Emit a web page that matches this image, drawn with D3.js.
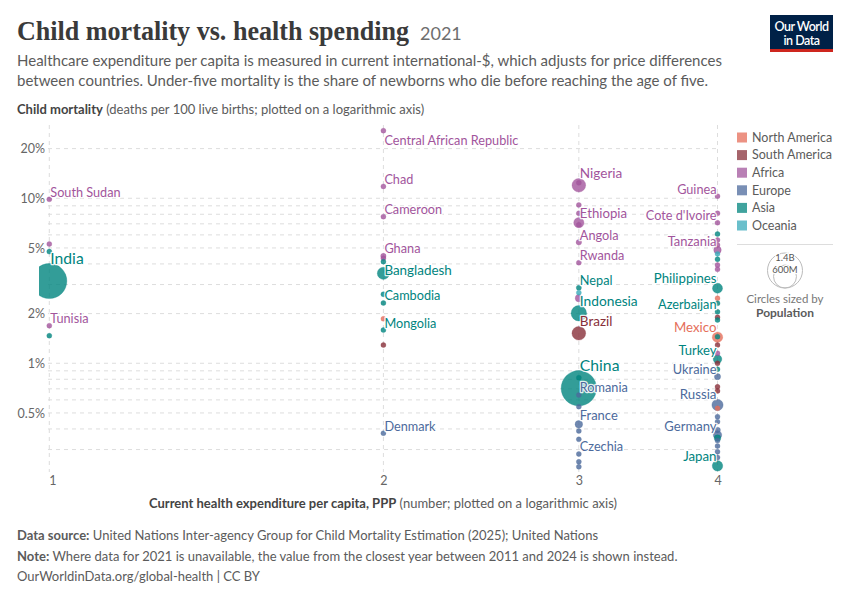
<!DOCTYPE html>
<html>
<head>
<meta charset="utf-8">
<script src="https://cdn.jsdelivr.net/npm/d3@7"></script>
<style>
  html, body { margin: 0; padding: 0; background: #fff; }
  svg { display: block; font-family: Lato, "Noto Sans", sans-serif; }
</style>
</head>
<body>
<svg id="chart" width="850" height="600"></svg>
<script>
// ---------------- DATA ----------------
// (one entry per country; "" = unlabeled point)
const countries = [
  // spending = 1 (6)
  "South Sudan", "", "", "India", "Tunisia", "",
  // spending = 2 (13)
  "Central African Republic", "Chad", "Cameroon", "Ghana", "", "", "Bangladesh", "", "Cambodia", "", "Mongolia", "", "Denmark",
  // spending = 3 (23)
  "Nigeria", "", "", "", "Ethiopia", "", "Angola", "Rwanda", "Nepal", "",
  "", "Indonesia", "Brazil", "China", "", "Romania", "", "France", "", "",
  "Czechia", "", "",
  // spending = 4 (39)
  "Guinea", "", "Cote d'Ivoire", "", "", "", "Tanzania", "", "", "",
  "", "Philippines", "", "", "Azerbaijan", "", "", "Mexico", "", "",
  "", "Turkey", "", "", "Ukraine", "", "", "Russia", "", "",
  "", "", "Germany", "", "", "", "", "", "Japan"
];
const regions = [
  "Africa", "Africa", "Asia", "Asia", "Africa", "Asia",
  "Africa", "Africa", "Africa", "Africa", "Africa", "Asia", "Asia", "Asia", "Asia", "North America", "Asia", "South America", "Europe",
  "Africa", "Africa", "Africa", "Africa", "Africa", "Africa", "Africa", "Africa", "Asia", "Oceania",
  "Africa", "Asia", "South America", "Asia", "Asia", "Europe", "Europe", "Europe", "Europe", "Europe",
  "Europe", "Europe", "Europe",
  "Africa", "Africa", "Africa", "Asia", "Africa", "Africa", "Africa", "Oceania", "Asia", "Africa",
  "Africa", "Asia", "North America", "Asia", "Asia", "South America", "Asia", "North America", "Asia", "South America",
  "Africa", "Asia", "South America", "Asia", "Europe", "South America", "South America", "Europe", "North America", "Europe",
  "Europe", "Europe", "Europe", "Asia", "Europe", "Europe", "Europe", "Europe", "Asia"
];
// Current health expenditure per capita, PPP (values as plotted: 1..4)
const spending = [
  1, 1, 1, 1, 1, 1,
  2, 2, 2, 2, 2, 2, 2, 2, 2, 2, 2, 2, 2,
  3, 3, 3, 3, 3, 3, 3, 3, 3, 3,
  3, 3, 3, 3, 3, 3, 3, 3, 3, 3,
  3, 3, 3,
  4, 4, 4, 4, 4, 4, 4, 4, 4, 4,
  4, 4, 4, 4, 4, 4, 4, 4, 4, 4,
  4, 4, 4, 4, 4, 4, 4, 4, 4, 4,
  4, 4, 4, 4, 4, 4, 4, 4, 4
];
// Under-five mortality (deaths per 100 live births)
const mortality = [
  9.86, 5.28, 4.75, 3.15, 1.69, 1.47,
  25.7, 11.8, 7.74, 4.47, 4.33, 4.13, 3.51, 2.62, 2.32, 1.86, 1.59, 1.29, 0.377,
  12.0, 12.4, 9.11, 8.11, 7.11, 6.9, 5.41, 4.07, 2.87, 2.68,
  2.48, 2.01, 1.52, 0.706, 0.818, 0.643, 0.546, 0.427, 0.389, 0.346,
  0.282, 0.253, 0.236,
  10.3, 8.11, 7.11, 6.08, 5.59, 5.21, 4.86, 4.6, 4.27, 3.94,
  3.71, 2.85, 2.48, 2.31, 2.05, 1.9, 1.83, 1.44, 1.45, 1.29,
  1.15, 1.06, 1.0, 0.92, 0.83, 0.72, 0.68, 0.559, 0.533, 0.475,
  0.443, 0.394, 0.368, 0.352, 0.34, 0.315, 0.291, 0.269, 0.239
];
// Population
const population = [
  10.7e6, 12e6, 5e6, 1407e6, 12e6, 8e6,
  5.5e6, 17e6, 27e6, 33e6, 12e6, 8e6, 169e6, 7e6, 16.6e6, 10e6, 3.3e6, 7e6, 5.9e6,
  213e6, 20e6, 5e6, 5e6, 120e6, 15e6, 34e6, 13e6, 30e6, 9e6,
  60e6, 273e6, 214e6, 1426e6, 5e6, 19e6, 5e6, 65e6, 10e6, 9e6,
  10.5e6, 5e6, 5e6,
  13.5e6, 8e6, 27e6, 10e6, 8e6, 8e6, 64e6, 10e6, 10e6, 8e6,
  8e6, 114e6, 3e6, 10e6, 10e6, 5e6, 5e6, 126e6, 10e6, 5e6,
  5e6, 85e6, 5e6, 5e6, 44e6, 5e6, 3e6, 145e6, 5e6, 5e6,
  5e6, 38e6, 83e6, 50e6, 10e6, 10e6, 5e6, 5e6, 125e6
];
const regionNames = ["North America", "South America", "Africa", "Europe", "Asia", "Oceania"];
const yTickValues = [0.5, 1, 2, 5, 10, 20];
const yMinorValues = [0.3, 0.4, 0.6, 0.7, 0.8, 0.9, 3, 4, 6, 7, 8, 9];
const xTickValues = [1, 2, 3, 4];
const sizeLegend = [{label: "1.4B", value: 1.4e9}, {label: "600M", value: 6e8}];

// ---------------- STYLE ----------------
const palette = {
  "North America": "#E56E5A", "South America": "#883039", "Africa": "#A2559C",
  "Europe": "#4C6A9C", "Asia": "#00847E", "Oceania": "#38AABA"
};
const textColor = "#5b5b5b";

const svg = d3.select("#chart");
svg.append("rect").attr("width", 850).attr("height", 600).attr("fill", "#fff");

// ---------------- HEADER ----------------
const title = svg.append("text").attr("x", 17).attr("y", 40)
  .attr("font-family", "'Liberation Serif', 'DejaVu Serif', serif")
  .attr("font-size", 27).attr("font-weight", 700).attr("fill", "#3a3a3a");
title.append("tspan").text("Child mortality vs. health spending")
  .attr("textLength", 392).attr("lengthAdjust", "spacingAndGlyphs");
svg.append("text").attr("x", 420).attr("y", 40).attr("font-size", 18).attr("fill", "#6e6e6e").text("2021");

const subtitle = ["Healthcare expenditure per capita is measured in current international-$, which adjusts for price differences",
  "between countries. Under-five mortality is the share of newborns who die before reaching the age of five."];
subtitle.forEach((s, i) => {
  svg.append("text").attr("x", 17).attr("y", 66 + i * 19.5).attr("font-size", 15).attr("fill", textColor).text(s);
});

// logo
const logo = svg.append("g");
logo.append("rect").attr("x", 770).attr("y", 15).attr("width", 63).attr("height", 37).attr("fill", "#002147");
logo.append("rect").attr("x", 770).attr("y", 49).attr("width", 63).attr("height", 3).attr("fill", "#ce261e");
logo.append("text").attr("x", 801.5).attr("y", 31).attr("text-anchor", "middle").attr("font-size", 12.5)
  .attr("font-weight", 600).attr("fill", "#fff").attr("letter-spacing", -0.5).text("Our World");
logo.append("text").attr("x", 801.5).attr("y", 45).attr("text-anchor", "middle").attr("font-size", 12.5)
  .attr("font-weight", 600).attr("fill", "#fff").attr("letter-spacing", -0.5).text("in Data");

// y axis title
const yt = svg.append("text").attr("x", 17).attr("y", 114).attr("font-size", 13).attr("fill", textColor);
yt.append("tspan").attr("font-weight", 700).attr("fill", "#444").text("Child mortality");
yt.append("tspan").text(" (deaths per 100 live births; plotted on a logarithmic axis)");

// ---------------- SCALES ----------------
const x = d3.scaleLog().domain([1, 4]).range([49.3, 717.5]);
const y = d3.scaleLog().domain([0.23, 26]).range([468.6, 129.8]);
const rScale = d3.scaleSqrt().domain([0, 1.4e9]).range([0, 17.5]);
const radius = p => Math.max(2.5, rScale(p));
const plotTop = 125, plotBottom = 472;

// gridlines
const grid = svg.append("g");
grid.selectAll("line.h").data(yTickValues.concat(yMinorValues)).join("line")
  .attr("x1", 48).attr("x2", 717.5).attr("y1", d => y(d)).attr("y2", d => y(d))
  .attr("stroke", "#dddddd").attr("stroke-dasharray", "4,4");
grid.selectAll("line.v").data(xTickValues).join("line")
  .attr("x1", d => x(d)).attr("x2", d => x(d)).attr("y1", plotTop).attr("y2", plotBottom)
  .attr("stroke", "#dddddd").attr("stroke-dasharray", "4,4");

// axes labels
const yAxis = d3.axisLeft(y).tickValues(yTickValues).tickSize(0).tickPadding(0)
  .tickFormat(d => d + "%");
const yG = svg.append("g").attr("transform", "translate(45,0)").call(yAxis);
yG.select(".domain").remove();
yG.selectAll("text").attr("font-size", 12.5).attr("fill", "#666").attr("font-family", "Lato, sans-serif").attr("dy", "0.35em");

const xAxis = d3.axisBottom(x).tickValues(xTickValues).tickSize(0).tickPadding(0).tickFormat(d3.format("d"));
const xG = svg.append("g").attr("transform", "translate(0,476)").call(xAxis);
xG.select(".domain").remove();
xG.selectAll("text").attr("font-size", 12.5).attr("fill", "#666").attr("font-family", "Lato, sans-serif").attr("dy", "0.71em");
xG.selectAll(".tick").filter(d => d === 1).select("text").attr("dx", 3);

const xt = svg.append("text").attr("x", 383).attr("y", 508).attr("text-anchor", "middle").attr("font-size", 13).attr("fill", textColor);
xt.append("tspan").attr("font-weight", 700).attr("fill", "#444").text("Current health expenditure per capita, PPP");
xt.append("tspan").text(" (number; plotted on a logarithmic axis)");

// ---------------- POINTS ----------------
const points = countries.map((c, i) => ({
  name: c, region: regions[i], cx: x(spending[i]), cy: y(mortality[i]), r: radius(population[i])
})).filter(d => isFinite(d.cx) && isFinite(d.cy));

svg.append("clipPath").attr("id", "plotClip").append("rect")
  .attr("x", 39).attr("y", 118).attr("width", 690).attr("height", 360);

const pg = svg.append("g").attr("clip-path", "url(#plotClip)");
pg.selectAll("circle").data(points.slice().sort((a, b) => b.r - a.r)).join("circle")
  .attr("cx", d => d.cx).attr("cy", d => d.cy).attr("r", d => d.r)
  .attr("fill", d => palette[d.region]).attr("fill-opacity", 0.8)
  .attr("stroke", d => palette[d.region]).attr("stroke-opacity", 0.5).attr("stroke-width", 0.6);

// labels with simple collision avoidance
const maxX = d3.max(spending);
const lg = svg.append("g");
const placed = [];
const overlaps = (a, b) => a.x1 < b.x2 && b.x1 < a.x2 && a.y1 < b.y2 && b.y1 < a.y2;
points.filter(d => d.name).sort((a, b) => a.cy - b.cy).forEach(d => {
  const fs = 12.2 + d.r * 0.2;
  const atRight = Math.abs(d.cx - x(maxX)) < 1;
  const t = lg.append("text")
    .attr("x", atRight ? d.cx - 1 : d.cx + 1)
    .attr("text-anchor", atRight ? "end" : "start")
    .attr("font-size", fs)
    .attr("fill", palette[d.region])
    .attr("stroke", "#fff").attr("stroke-width", 2.5).attr("stroke-opacity", 0.85)
    .attr("stroke-linejoin", "round").attr("paint-order", "stroke")
    .text(d.name);
  const w = t.node().getComputedTextLength();
  const x1 = atRight ? d.cx - 1 - w : d.cx + 1;
  const box = by => ({x1: x1, x2: x1 + w, y1: by - fs * 0.95, y2: by + fs * 0.25});
  let by = d.cy - d.r;
  if (by - fs * 0.75 < plotTop) by = d.cy + d.r + fs * 0.9;
  if (placed.some(p => overlaps(p, box(by)))) by = d.cy + 2;
  t.attr("y", by);
  placed.push(box(by));
});

// ---------------- LEGEND ----------------
const leg = svg.append("g");
regionNames.forEach((n, i) => {
  const cy = 137.5 + i * 17.6;
  leg.append("rect").attr("x", 737).attr("y", cy - 5).attr("width", 10).attr("height", 10)
    .attr("fill", palette[n]).attr("fill-opacity", 0.75);
  leg.append("text").attr("x", 752).attr("y", cy + 4.3).attr("font-size", 12.5).attr("fill", textColor).text(n);
});
leg.append("line").attr("x1", 737).attr("x2", 833).attr("y1", 244.5).attr("y2", 244.5).attr("stroke", "#ddd");

const sizeBottom = 288;
sizeLegend.forEach((s, i) => {
  const r = rScale(s.value);
  leg.append("circle").attr("cx", 785).attr("cy", sizeBottom - r).attr("r", r)
    .attr("fill", "none").attr("stroke", "#bbb").attr("stroke-width", 1);
  leg.append("text").attr("x", 785).attr("y", sizeBottom - 2 * r + 7.5).attr("text-anchor", "middle")
    .attr("font-size", 9.5).attr("fill", "#555")
    .attr("stroke", "#fff").attr("stroke-width", 2).attr("paint-order", "stroke")
    .text(s.label);
});
leg.append("text").attr("x", 785).attr("y", 303).attr("text-anchor", "middle").attr("font-size", 11.5).attr("fill", "#777").text("Circles sized by");
leg.append("text").attr("x", 785).attr("y", 317).attr("text-anchor", "middle").attr("font-size", 12).attr("font-weight", 700).attr("fill", textColor).text("Population");

// ---------------- FOOTER ----------------
const f1 = svg.append("text").attr("x", 17).attr("y", 540).attr("font-size", 13).attr("fill", textColor);
f1.append("tspan").attr("font-weight", 700).text("Data source:");
f1.append("tspan").text(" United Nations Inter-agency Group for Child Mortality Estimation (2025); United Nations");
const f2 = svg.append("text").attr("x", 17).attr("y", 560.5).attr("font-size", 13).attr("fill", textColor);
f2.append("tspan").attr("font-weight", 700).text("Note:");
f2.append("tspan").text(" Where data for 2021 is unavailable, the value from the closest year between 2011 and 2024 is shown instead.");
svg.append("text").attr("x", 17).attr("y", 581).attr("font-size", 13).attr("fill", textColor)
  .text("OurWorldinData.org/global-health | CC BY");
</script>
</body>
</html>
